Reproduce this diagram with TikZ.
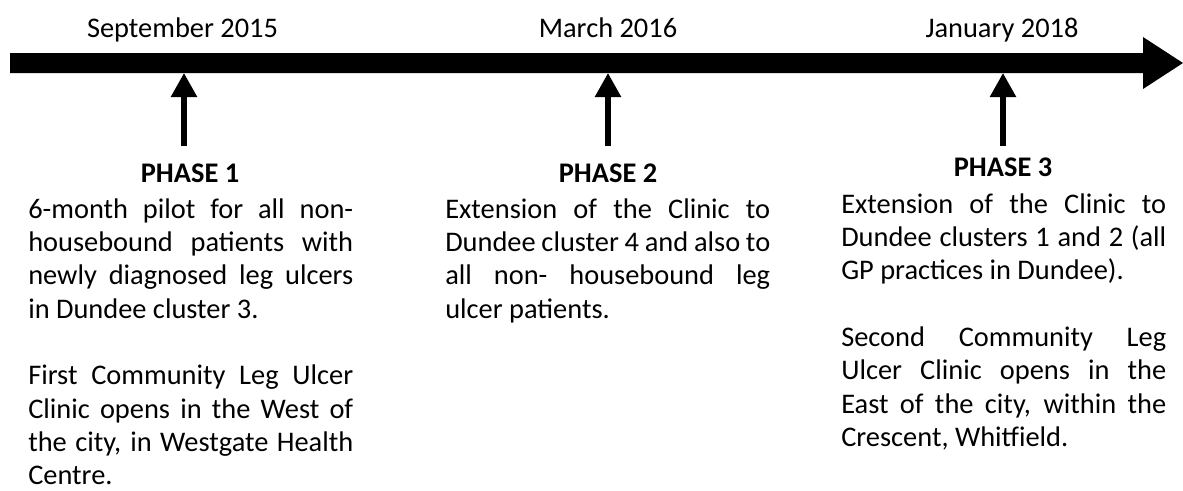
\documentclass[tikz,border=0pt]{standalone}
\usepackage{fontspec}
\setmainfont{Carlito}
\usetikzlibrary{arrows.meta}

% body text settings: no hyphenation, no indent
\newcommand\bodyfont{\fontsize{21.3}{25}\selectfont
  \hyphenpenalty=10000 \exhyphenpenalty=10000 \parindent=0pt\relax}

\begin{document}
\begin{tikzpicture}[x=0.75pt,y=-0.75pt,
  datelabel/.style={font=\fontsize{21.3}{25}\selectfont, anchor=base, inner sep=0pt},
  phasehead/.style={font=\fontsize{21.3}{25}\selectfont\bfseries, anchor=base, inner sep=0pt},
  phasetext/.style={font=\bodyfont, text width=243.75pt, align=justify,
    anchor=base west, inner sep=0pt},
  marker/.style={line width=4.1pt, -{Triangle[length=18pt,width=18.75pt]}}]

  % page frame
  \useasboundingbox (0,0) rectangle (1183,490);

  % timeline bar with its arrowhead
  \fill[black] (10,53) -- (1143,53) -- (1143,37) -- (1183,63) -- (1143,89)
               -- (1143,73) -- (10,73) -- cycle;

  % points on the timeline
  \coordinate (t1) at (184,73);
  \coordinate (t2) at (608,73);
  \coordinate (t3) at (1003,73);
  \coordinate (s1) at (184,146);
  \coordinate (s2) at (608,146);
  \coordinate (s3) at (1003,146);

  % dates
  \node[datelabel] (d1) at (182.5,37) {September 2015};
  \node[datelabel] (d2) at (608,37) {March 2016};
  \node[datelabel] (d3) at (1002,37) {January 2018};

  % phase markers
  \draw[marker] (s1) -- (t1);
  \draw[marker] (s2) -- (t2);
  \draw[marker] (s3) -- (t3);

  % phase headings
  \node[phasehead] (h1) at (190,182) {PHASE 1};
  \node[phasehead] (h2) at (608,182) {PHASE 2};
  \node[phasehead] (h3) at (1003,176) {PHASE 3};

  % phase descriptions
  \node[phasetext] (p1) at (28,218) {6-month pilot for all non-\linebreak
    housebound patients with\linebreak
    newly diagnosed leg ulcers\linebreak
    in Dundee cluster 3.\par\vspace{\baselineskip}
    First Community Leg Ulcer\linebreak
    Clinic opens in the West of\linebreak
    the city, in Westgate Health\linebreak
    Centre.};

  \node[phasetext] (p2) at (445,218) {Extension of the Clinic to\linebreak
    Dundee cluster 4 and also to\linebreak
    all non- housebound leg\linebreak
    ulcer patients.};

  \node[phasetext] (p3) at (841,213) {Extension of the Clinic to\linebreak
    Dundee clusters 1 and 2 (all\linebreak
    GP practices in Dundee).\par\vspace{\baselineskip}
    Second Community Leg\linebreak
    Ulcer Clinic opens in the\linebreak
    East of the city, within the\linebreak
    Crescent, Whitfield.};
\end{tikzpicture}
\end{document}
